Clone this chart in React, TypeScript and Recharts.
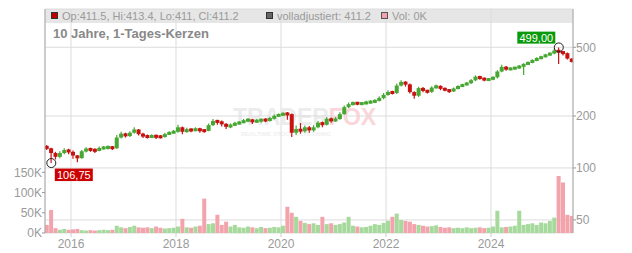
import {
  ComposedChart,
  Bar,
  Cell,
  XAxis,
  YAxis,
  CartesianGrid,
  ReferenceDot,
} from "recharts";

// monthly candles, Jul 2015 .. Jul 2025
const START_YEAR = 2015;
const START_MONTH = 7;
const FIRST_OPEN = 133;

const closes = [
  130, 122, 116, 122, 127, 124, 118, 114, 125, 129,
  127, 126, 130, 131, 132, 130, 150, 158, 153, 160,
  167, 157, 153, 151, 153, 152, 151, 157, 160, 162,
  172, 162, 167, 165, 168, 165, 164, 177, 187, 185,
  180, 173, 177, 181, 183, 188, 190, 185, 188, 190,
  189, 193, 200, 203, 206, 205, 160, 168, 163, 172,
  165, 172, 183, 178, 193, 187, 192, 205, 225, 234,
  238, 236, 236, 240, 241, 245, 254, 265, 275, 272,
  300, 315, 305, 275, 262, 290, 280, 276, 292, 298,
  288, 283, 278, 288, 297, 303, 310, 322, 338, 330,
  324, 326, 335, 362, 385, 372, 377, 380, 388, 398,
  408, 420, 430, 440, 452, 460, 478, 470, 462, 430,
  411.2,
];

const highs = [
  136, 131, 124, 125, 130, 129, 126, 119, 127, 132,
  131, 130, 133, 134, 135, 134, 155, 162, 160, 163,
  172, 168, 160, 156, 157, 156, 155, 160, 163, 166,
  178, 174, 171, 170, 172, 171, 168, 181, 192, 190,
  188, 182, 181, 185, 187, 192, 195, 192, 192, 194,
  194, 197, 204, 207, 210, 211, 207, 176, 182, 176,
  175, 177, 187, 186, 197, 196, 197, 210, 230, 239,
  243, 241, 241, 245, 247, 250, 260, 272, 282, 280,
  308, 322, 318, 308, 278, 295, 294, 284, 297, 304,
  301, 292, 287, 292, 301, 307, 315, 327, 344, 342,
  334, 331, 340, 368, 396, 390, 383, 386, 395, 404,
  414, 426, 437, 446, 458, 468, 492, 499, 475, 466,
  432,
];

const lows = [
  127, 106.75, 112, 114, 120, 120, 113, 108, 113, 123,
  124, 122, 125, 128, 128, 127, 129, 148, 150, 151,
  158, 154, 149, 148, 149, 147, 148, 150, 155, 158,
  160, 157, 160, 161, 163, 160, 160, 163, 175, 178,
  174, 168, 170, 175, 178, 181, 184, 180, 182, 183,
  184, 186, 191, 197, 200, 190, 151, 155, 158, 160,
  160, 162, 170, 172, 176, 183, 185, 190, 203, 222,
  230, 231, 231, 233, 236, 238, 243, 250, 262, 266,
  268, 296, 296, 270, 252, 258, 274, 270, 272, 288,
  282, 278, 272, 275, 285, 294, 300, 306, 318, 324,
  318, 320, 322, 330, 358, 366, 368, 372, 376, 345,
  395, 404, 415, 426, 436, 448, 455, 400, 448, 425,
  408,
];

// volume in thousands
const volumes = [
  20, 57, 12, 8, 10, 8, 9, 10, 7, 6,
  7, 6, 7, 8, 7, 8, 18, 14, 12, 15,
  18, 14, 13, 14, 12, 16, 13, 11, 12, 13,
  16, 35, 14, 13, 16, 18, 85, 22, 24, 45,
  20, 28, 16, 20, 14, 13, 16, 14, 12, 15,
  12, 13, 15, 14, 18, 65, 50, 40, 30, 25,
  22, 24, 20, 40, 22, 24, 20, 22, 26, 40,
  18, 16, 14, 15, 18, 22, 20, 25, 30, 40,
  48, 32, 30, 28, 22, 20, 18, 16, 17, 19,
  15, 13, 14, 12, 13, 12, 14, 12, 13, 14,
  12, 13, 16, 55, 14, 15, 16, 18, 55, 20,
  22, 24, 20, 26, 24, 30, 38, 141, 125, 45,
  42,
];

const yearTicks = [2016, 2018, 2020, 2022, 2024];
const priceTicks = [50, 100, 200, 500];
const volTicks = [0, 50, 100, 150];

const LOW_MARK = { month: 1, value: 106.75, label: "106,75" };
const HIGH_MARK = { month: 117, value: 499, label: "499,00" };

const GREEN = "#46a832";
const RED = "#c81212";
const VOL_GREEN = "#a6d99c";
const VOL_RED = "#f2a3ab";
const FONT = "'Liberation Sans', Arial, sans-serif";

const monthTime = (i: number) =>
  START_YEAR + (START_MONTH - 1 + i + 0.5) / 12;

const rows = closes.map((close, i) => {
  const open = i === 0 ? FIRST_OPEN : closes[i - 1];
  return {
    t: monthTime(i),
    open,
    close,
    high: highs[i],
    low: lows[i],
    range: [lows[i], highs[i]],
    vol: volumes[i],
  };
});

const Candle = (props: any) => {
  const { x, y, width, height, payload } = props;
  if (!payload || height == null || isNaN(y)) return null;
  const { open, close, high, low } = payload;
  const top = Math.min(y, y + height);
  const h = Math.abs(height);
  const lh = Math.log(high);
  const ll = Math.log(low);
  const py = (p: number) => top + (h * (lh - Math.log(p))) / (lh - ll);
  const color = close >= open ? GREEN : RED;
  const cx = x + width / 2;
  const yo = py(open);
  const yc = py(close);
  const bh = Math.max(3, Math.abs(yc - yo));
  const by = Math.min(yo, yc) - (bh - Math.abs(yc - yo)) / 2;
  return (
    <g>
      <line x1={cx} x2={cx} y1={top} y2={top + h} stroke={color} strokeWidth={1.2} />
      <rect x={x} y={by} width={width} height={bh} fill={color} />
    </g>
  );
};

const LowMarker = (props: any) => {
  const { cx, cy } = props;
  return (
    <g>
      <circle cx={cx} cy={cy} r={4.5} fill="none" stroke="#222" strokeWidth={1} />
      <rect x={cx + 3.5} y={cy + 5.5} width={38} height={12.5} fill="#cc0000" />
      <text x={cx + 22.5} y={cy + 15.8} textAnchor="middle" fill="#fff" fontSize={11} fontFamily={FONT}>
        {LOW_MARK.label}
      </text>
    </g>
  );
};

const HighMarker = (props: any) => {
  const { cx, cy } = props;
  return (
    <g>
      <circle cx={cx} cy={cy} r={4.5} fill="none" stroke="#222" strokeWidth={1} />
      <rect x={cx - 41.5} y={cy - 15.8} width={38} height={12} fill="#0b9a0b" />
      <text x={cx - 22.5} y={cy - 5.8} textAnchor="middle" fill="#fff" fontSize={11} fontFamily={FONT}>
        {HIGH_MARK.label}
      </text>
    </g>
  );
};

const tickStyle = { fill: "#9a9a9a", fontSize: 12, fontFamily: FONT };
const X_DOMAIN = [2015.505, 2025.562];

export default function App() {
  return (
    <div
      style={{
        position: "absolute",
        left: 0,
        top: 0,
        width: 632,
        height: 253,
        background: "#fff",
      }}
    >
      {/* header band + watermark, below the chart */}
      <svg width={632} height={253} style={{ position: "absolute", left: 0, top: 0 }}>
        <rect x={45} y={9} width={528} height={14} fill="#e6e6e6" />
        <text x={233} y={125} fontSize={23} fontWeight="bold" fill="#ececec" fontFamily={FONT}>
          TRADER<tspan fill="#fad6da">FOX</tspan>
        </text>
        <text x={241} y={136} fontSize={6} fontWeight="bold" fill="#efefef" fontFamily={FONT}>
          REALTIME STOCK SCREENING
        </text>
      </svg>

      <div style={{ position: "absolute", left: 0, top: 0 }}>
        <ComposedChart
          width={632}
          height={253}
          data={rows}
          margin={{ top: 9, right: 0, bottom: 0, left: 0 }}
        >
          <CartesianGrid stroke="#dcdcdc" xAxisId="p" yAxisId="price" />
          <XAxis
            xAxisId="p"
            dataKey="t"
            type="number"
            domain={X_DOMAIN}
            allowDataOverflow
            ticks={yearTicks}
            tickFormatter={(v) => String(v)}
            height={20}
            axisLine={false}
            tickLine={{ stroke: "#cccccc" }}
            tickSize={4}
            tickMargin={2}
            tick={tickStyle}
          />
          <XAxis
            xAxisId="v"
            dataKey="t"
            type="number"
            domain={X_DOMAIN}
            allowDataOverflow
            hide
          />
          <YAxis
            yAxisId="vol"
            orientation="left"
            width={45}
            domain={[0, 554]}
            allowDataOverflow
            ticks={volTicks}
            tickFormatter={(v) => `${v}K`}
            axisLine={{ stroke: "#aaaaaa" }}
            tickLine={{ stroke: "#999999" }}
            tickSize={3}
            tickMargin={0}
            tick={tickStyle}
          />
          <YAxis
            yAxisId="price"
            orientation="right"
            width={59}
            scale="log"
            domain={[42, 833]}
            allowDataOverflow
            ticks={priceTicks}
            axisLine={{ stroke: "#aaaaaa" }}
            tickLine={{ stroke: "#999999" }}
            tickSize={3}
            tickMargin={0}
            tick={tickStyle}
          />
          <Bar
            xAxisId="v"
            yAxisId="vol"
            dataKey="vol"
            barSize={4}
            isAnimationActive={false}
          >
            {rows.map((r, i) => (
              <Cell key={i} fill={r.close >= r.open ? VOL_GREEN : VOL_RED} />
            ))}
          </Bar>
          <Bar
            xAxisId="p"
            yAxisId="price"
            dataKey="range"
            barSize={4}
            shape={Candle}
            isAnimationActive={false}
          />
          <ReferenceDot
            xAxisId="p"
            yAxisId="price"
            x={monthTime(LOW_MARK.month)}
            y={LOW_MARK.value}
            shape={LowMarker}
          />
          <ReferenceDot
            xAxisId="p"
            yAxisId="price"
            x={monthTime(HIGH_MARK.month)}
            y={HIGH_MARK.value}
            shape={HighMarker}
          />
        </ComposedChart>
      </div>

      {/* legend texts and title */}
      <svg
        width={632}
        height={253}
        style={{ position: "absolute", left: 0, top: 0, pointerEvents: "none" }}
      >
        <rect x={51.5} y={12.5} width={6} height={6} fill="#c00000" stroke="#333" />
        <text x={62} y={19.5} fontSize={11} fill="#9a9a9a" fontFamily={FONT}>
          Op:411.5, Hi:413.4, Lo:411, Cl:411.2
        </text>
        <rect x={266.5} y={12.5} width={6} height={6} fill="#666666" stroke="#333" />
        <text x={277} y={19.5} fontSize={11} fill="#9a9a9a" fontFamily={FONT}>
          volladjustiert: 411.2
        </text>
        <rect x={381.5} y={12.5} width={6} height={6} fill="#f2a3ab" stroke="#555" />
        <text x={392} y={19.5} fontSize={11} fill="#9a9a9a" fontFamily={FONT}>
          Vol: 0K
        </text>
        <text x={53} y={38} fontSize={13} fontWeight="bold" fill="#888888" fontFamily={FONT}>
          10 Jahre, 1-Tages-Kerzen
        </text>
      </svg>
    </div>
  );
}
